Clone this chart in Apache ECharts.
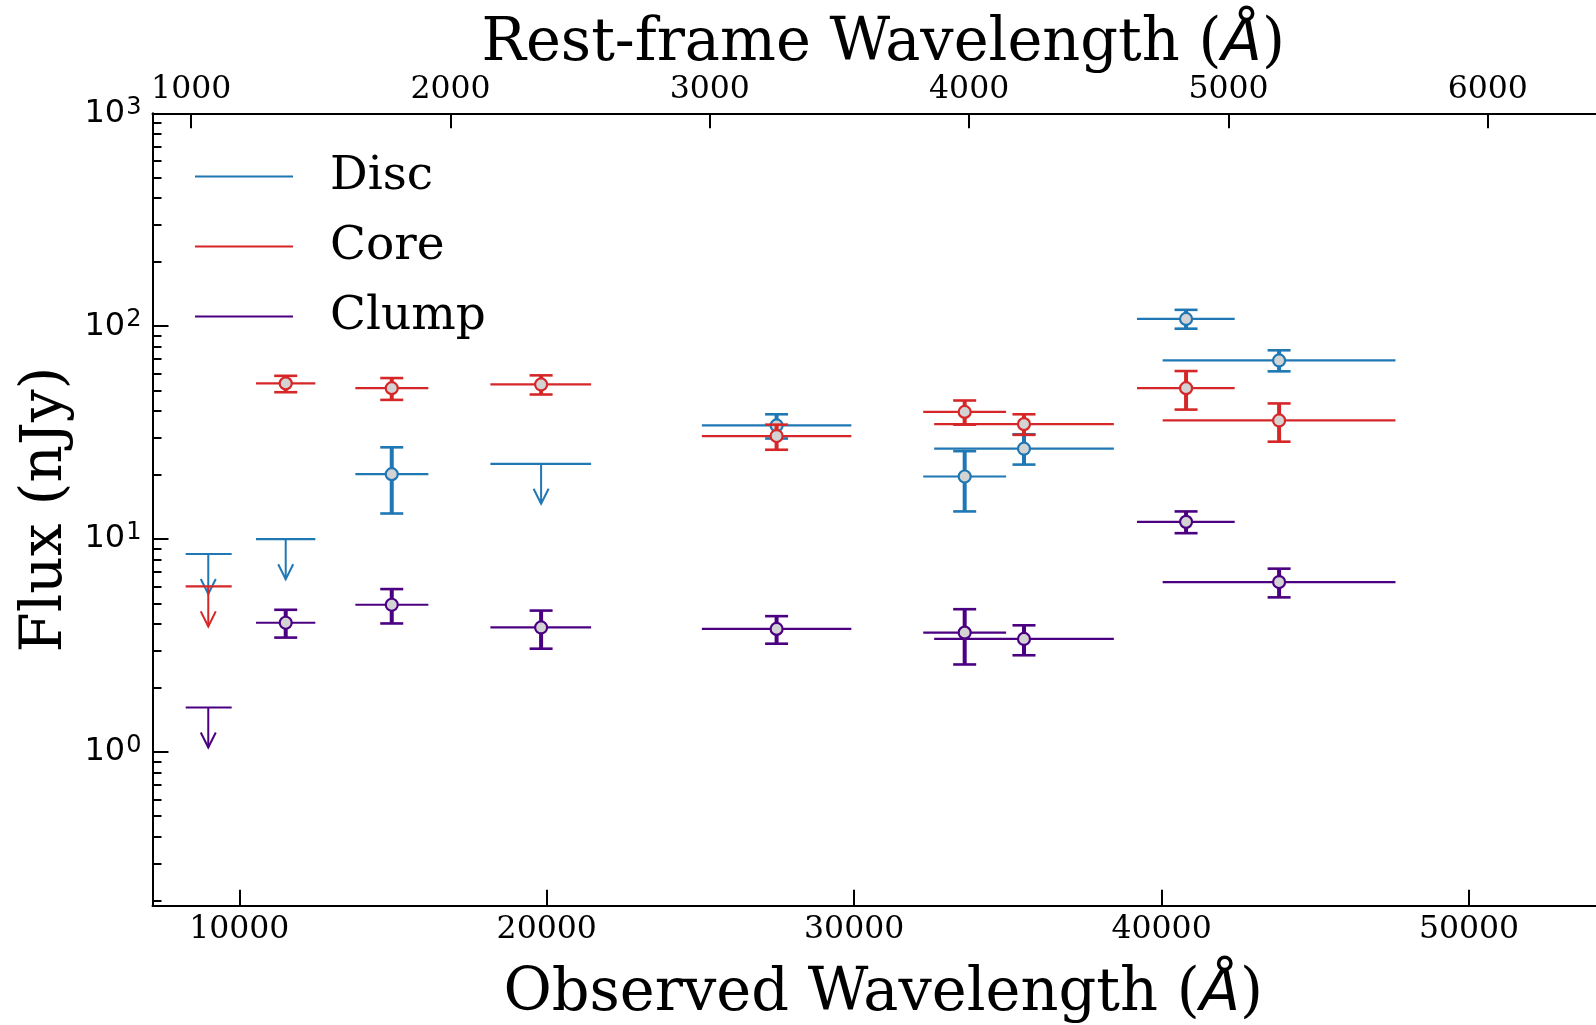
<!DOCTYPE html>
<html>
<head>
<meta charset="utf-8">
<script src="https://cdn.jsdelivr.net/npm/echarts@6/dist/echarts.min.js"></script>
<style>
  html, body { margin: 0; padding: 0; background: #ffffff; }
  #chart { width: 1596px; height: 1025px; }
</style>
</head>
<body>
<div id="chart"></div>
<script>
// Photometry of three components measured in nine NIRCam filters.
const redshift = 7.435;
const bands      = ['F090W', 'F115W', 'F150W', 'F200W', 'F277W', 'F335M', 'F356W', 'F410M', 'F444W'];
const bandCenter = [8991, 11510, 14959, 19817, 27477, 33595, 35524, 40796, 43822];
const bandLo     = [8256, 10543, 13775, 18168, 25047, 32247, 32603, 39201, 40034];
const bandHi     = [9753, 12474, 16150, 21444, 29908, 34942, 38447, 42378, 47607];

// Fluxes in nJy; errHi / errLo are the ends of the 1-sigma bars; limit = upper limit
const discFlux   = [null, null, 20.2, null, 34.2, 19.7, 26.6, 108.2, 69.1];
const discErrHi  = [null, null, 27.0, null, 38.6, 25.9, 31.1, 119.4, 77.1];
const discErrLo  = [null, null, 13.2, null, 29.7, 13.5, 22.4, 97.4, 61.4];
const discLimit  = [8.52, 10.0, null, 22.6, null, null, null, null, null];

const coreFlux   = [null, 53.9, 51.2, 53.3, 30.5, 39.6, 34.7, 51.2, 36.1];
const coreErrHi  = [null, 58.5, 57.1, 58.8, 34.5, 44.8, 38.6, 61.6, 43.4];
const coreErrLo  = [null, 49.0, 45.1, 47.8, 26.3, 34.5, 30.9, 40.6, 28.7];
const coreLimit  = [6.0, null, null, null, null, null, null, null, null];

const clumpFlux  = [null, 4.05, 4.92, 3.85, 3.79, 3.64, 3.40, 12.06, 6.29];
const clumpErrHi = [null, 4.66, 5.83, 4.62, 4.35, 4.69, 3.94, 13.5, 7.27];
const clumpErrLo = [null, 3.45, 4.02, 3.06, 3.23, 2.58, 2.85, 10.67, 5.33];
const clumpLimit = [1.62, null, null, null, null, null, null, null, null];

// Axis ticks
const obsTicks   = [10000, 20000, 30000, 40000, 50000];
const restTicks  = [1000, 2000, 3000, 4000, 5000, 6000];
const fluxTicks  = [1, 10, 100, 1000];
const fluxMinor  = [0.2, 0.3, 0.4, 0.5, 0.6, 0.7, 0.8, 0.9,
                    2, 3, 4, 5, 6, 7, 8, 9,
                    20, 30, 40, 50, 60, 70, 80, 90,
                    200, 300, 400, 500, 600, 700, 800, 900];
const xRange = [7177, 54130];
const yRange = [0.19, 1000];

const FONT = 'DejaVu Serif';
const MATH = 'DejaVu Sans';
const components = [
  { name: 'Disc',  color: '#1f77b4', flux: discFlux,  hi: discErrHi,  lo: discErrLo,  limit: discLimit },
  { name: 'Core',  color: '#d62728', flux: coreFlux,  hi: coreErrHi,  lo: coreErrLo,  limit: coreLimit },
  { name: 'Clump', color: '#4b0082', flux: clumpFlux, hi: clumpErrHi, lo: clumpErrLo, limit: clumpLimit }
];

function detectionRenderer(color) {
  return function (params, api) {
    const x = api.value(0), y = api.value(1);
    const c = api.coord([x, y]);
    const l = api.coord([api.value(2), y]);
    const r = api.coord([api.value(3), y]);
    const top = api.coord([x, api.value(5)]);
    const bot = api.coord([x, api.value(4)]);
    const capHalf = 11.5;
    return {
      type: 'group',
      children: [
        { type: 'line', shape: { x1: l[0], y1: c[1], x2: r[0], y2: c[1] },
          style: { stroke: color, lineWidth: 2.2 } },
        { type: 'line', shape: { x1: c[0], y1: top[1], x2: c[0], y2: bot[1] },
          style: { stroke: color, lineWidth: 4 } },
        { type: 'line', shape: { x1: c[0] - capHalf, y1: top[1], x2: c[0] + capHalf, y2: top[1] },
          style: { stroke: color, lineWidth: 2.6 } },
        { type: 'line', shape: { x1: c[0] - capHalf, y1: bot[1], x2: c[0] + capHalf, y2: bot[1] },
          style: { stroke: color, lineWidth: 2.6 } },
        { type: 'circle', shape: { cx: c[0], cy: c[1], r: 6 },
          style: { fill: '#d3d3d3', stroke: color, lineWidth: 2.2 } }
      ]
    };
  };
}

function limitRenderer(color) {
  return function (params, api) {
    const y = api.value(1);
    const c = api.coord([api.value(0), y]);
    const l = api.coord([api.value(2), y]);
    const r = api.coord([api.value(3), y]);
    const len = 40, headH = 15, headW = 7.5;
    const tip = c[1] + len;
    return {
      type: 'group',
      children: [
        { type: 'line', shape: { x1: l[0], y1: c[1], x2: r[0], y2: c[1] },
          style: { stroke: color, lineWidth: 2.2 } },
        { type: 'line', shape: { x1: c[0], y1: c[1], x2: c[0], y2: tip },
          style: { stroke: color, lineWidth: 2 } },
        { type: 'polyline', shape: { points: [[c[0] - headW, tip - headH], [c[0], tip], [c[0] + headW, tip - headH]] },
          style: { stroke: color, lineWidth: 2, fill: null } }
      ]
    };
  };
}

const series = [];
components.forEach(function (comp) {
  const det = [], lim = [];
  bands.forEach(function (b, i) {
    if (comp.flux[i] != null) {
      det.push([bandCenter[i], comp.flux[i], bandLo[i], bandHi[i], comp.lo[i], comp.hi[i]]);
    }
    if (comp.limit[i] != null) {
      lim.push([bandCenter[i], comp.limit[i], bandLo[i], bandHi[i]]);
    }
  });
  series.push({
    name: comp.name, type: 'custom', xAxisIndex: 0, yAxisIndex: 0,
    itemStyle: { color: comp.color },
    encode: { x: [0, 2, 3], y: [1] },
    renderItem: limitRenderer(comp.color),
    data: lim, z: 2
  });
  series.push({
    name: comp.name, type: 'custom', xAxisIndex: 0, yAxisIndex: 0,
    itemStyle: { color: comp.color },
    encode: { x: [0, 2, 3], y: [1, 4, 5] },
    renderItem: detectionRenderer(comp.color),
    data: det, z: 3
  });
});

const axisLineStyle = { lineStyle: { color: '#000', width: 2 } };
const titleRich = {
  n: { fontFamily: FONT, fontSize: 59, color: '#000' },
  i: { fontFamily: MATH, fontSize: 59, color: '#000', fontStyle: 'italic' }
};

const option = {
  animation: false,
  backgroundColor: '#ffffff',
  grid: { left: 152.5, top: 113.3, right: 0, bottom: 119.3, containLabel: false, outerBoundsMode: 'none' },
  legend: {
    orient: 'vertical', left: 190, top: 136.5,
    icon: 'rect', itemWidth: 98, itemHeight: 2, itemGap: 0,
    selectedMode: false,
    textStyle: { fontFamily: FONT, fontSize: 47, color: '#000', lineHeight: 70, padding: [0, 0, 0, 32] },
    data: ['Disc', 'Core', 'Clump']
  },
  xAxis: [
    {
      type: 'value', position: 'bottom', min: xRange[0], max: xRange[1],
      axisLine: axisLineStyle,
      axisTick: { inside: true, length: 16, lineStyle: { color: '#000', width: 2 }, customValues: obsTicks },
      axisLabel: { customValues: obsTicks, margin: 8, fontFamily: FONT, fontSize: 31.5, color: '#000',
                   formatter: function (v) { return String(Math.round(v)); } },
      splitLine: { show: false },
      name: '{n|Observed Wavelength (}{i|Å}{n|)}',
      nameLocation: 'middle', nameGap: 59, nameMoveOverlap: false,
      nameTextStyle: { rich: titleRich, padding: [0, 0, 0, 18] }
    },
    {
      type: 'value', position: 'top', min: xRange[0], max: xRange[1],
      axisLine: axisLineStyle,
      axisTick: { inside: true, length: 15, lineStyle: { color: '#000', width: 2 },
                  customValues: restTicks.map(function (v) { return v * (1 + redshift); }) },
      axisLabel: { customValues: restTicks.map(function (v) { return v * (1 + redshift); }),
                   formatter: function (v) { return String(Math.round(v / (1 + redshift))); },
                   margin: 7, fontFamily: FONT, fontSize: 31.5, color: '#000' },
      splitLine: { show: false },
      name: '{n|Rest-frame Wavelength (}{i|Å}{n|)}',
      nameLocation: 'middle', nameGap: 39, nameMoveOverlap: false,
      nameTextStyle: { rich: titleRich, padding: [0, 0, 0, 18] }
    }
  ],
  yAxis: [
    {
      type: 'log', logBase: 10, position: 'left', min: yRange[0], max: yRange[1],
      axisLine: axisLineStyle,
      axisTick: { inside: true, length: 16, lineStyle: { color: '#000', width: 2 }, customValues: fluxTicks },
      axisLabel: {
        customValues: fluxTicks, margin: 11,
        formatter: function (v) { return '{b|10}{s|' + Math.round(Math.log10(v)) + '}'; },
        rich: {
          b: { fontFamily: MATH, fontSize: 32, color: '#000', lineHeight: 36 },
          s: { fontFamily: MATH, fontSize: 24, color: '#000', lineHeight: 36, verticalAlign: 'top', padding: [0, 0, 8, 1] }
        }
      },
      splitLine: { show: false },
      name: 'Flux (nJy)', nameLocation: 'middle', nameGap: 78, nameRotate: 90, nameMoveOverlap: false,
      nameTextStyle: { fontFamily: FONT, fontSize: 58, color: '#000' }
    },
    {
      type: 'log', logBase: 10, position: 'left', min: yRange[0], max: yRange[1],
      axisLine: { show: false },
      axisTick: { inside: true, length: 9, lineStyle: { color: '#000', width: 2 }, customValues: fluxMinor },
      axisLabel: { show: false },
      splitLine: { show: false }
    }
  ],
  series: series
};

const chart = echarts.init(document.getElementById('chart'), null, { renderer: 'canvas' });
chart.setOption(option);
</script>
</body>
</html>
